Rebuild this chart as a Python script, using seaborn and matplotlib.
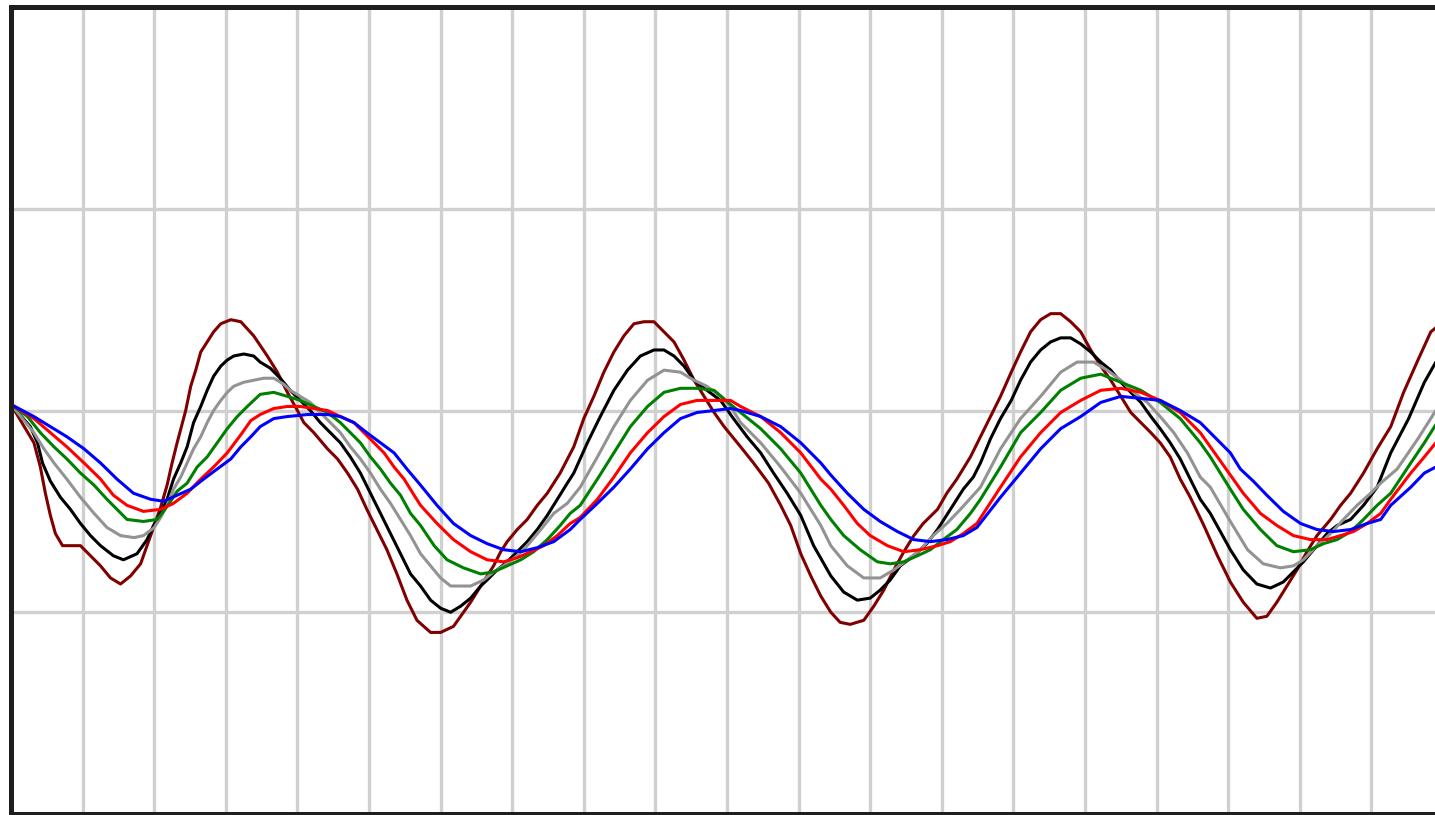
import pandas as pd
import seaborn as sns
import matplotlib.pyplot as plt

# curves (x in grid units, y in grid units)
maroon_x = [0, 0.32, 0.41, 0.48, 0.55, 0.62, 0.72, 0.97, 1.11, 1.25,
            1.39, 1.53, 1.67, 1.81, 1.90, 1.99, 2.09, 2.18, 2.25, 2.32,
            2.44, 2.51, 2.58, 2.65, 2.74, 2.83, 2.93, 3.07, 3.21, 3.39,
            3.58, 3.72, 3.86, 4.00, 4.09, 4.23, 4.42, 4.56, 4.70, 4.84,
            4.97, 5.11, 5.25, 5.39, 5.53, 5.67, 5.86, 6.00, 6.18, 6.32,
            6.42, 6.56, 6.65, 6.74, 6.84, 6.93, 7.07, 7.21, 7.35, 7.49,
            7.67, 7.86, 8.00, 8.14, 8.28, 8.42, 8.56, 8.70, 8.84, 8.98,
            9.12, 9.26, 9.40, 9.54, 9.68, 9.82, 9.96, 10.19, 10.37, 10.58,
            10.75, 10.89, 11.03, 11.17, 11.31, 11.45, 11.58, 11.72, 11.91, 12.05,
            12.19, 12.33, 12.47, 12.61, 12.74, 12.94, 13.07, 13.21, 13.40, 13.54,
            13.68, 13.82, 13.97, 14.10, 14.24, 14.38, 14.52, 14.66, 14.80, 14.94,
            15.08, 15.22, 15.36, 15.50, 15.64, 15.78, 15.92, 16.05, 16.19, 16.33,
            16.47, 16.66, 16.85, 17.03, 17.21, 17.40, 17.54, 17.68, 17.82, 17.96,
            18.10, 18.24, 18.43, 18.57, 18.71, 18.89, 19.08, 19.27, 19.45, 19.65,
            19.83, 19.90]
maroon_y = [0.03, -0.16, -0.28, -0.41, -0.52, -0.61, -0.67, -0.67, -0.72, -0.77,
            -0.83, -0.86, -0.82, -0.76, -0.67, -0.58, -0.48, -0.37, -0.26, -0.16,
            0.00, 0.12, 0.20, 0.29, 0.34, 0.39, 0.43, 0.45, 0.44, 0.37,
            0.27, 0.19, 0.09, 0.00, -0.06, -0.11, -0.19, -0.24, -0.31, -0.39,
            -0.49, -0.59, -0.69, -0.81, -0.94, -1.04, -1.10, -1.10, -1.07, -1.00,
            -0.95, -0.87, -0.82, -0.77, -0.70, -0.65, -0.59, -0.54, -0.47, -0.41,
            -0.31, -0.18, -0.04, 0.07, 0.19, 0.29, 0.37, 0.43, 0.44, 0.44,
            0.39, 0.34, 0.25, 0.15, 0.07, -0.01, -0.08, -0.18, -0.26, -0.36,
            -0.47, -0.57, -0.71, -0.82, -0.92, -1.00, -1.05, -1.06, -1.04, -0.97,
            -0.89, -0.79, -0.70, -0.62, -0.56, -0.49, -0.41, -0.34, -0.23, -0.13,
            -0.03, 0.07, 0.19, 0.29, 0.39, 0.45, 0.48, 0.48, 0.44, 0.39,
            0.30, 0.22, 0.15, 0.07, -0.01, -0.06, -0.11, -0.16, -0.23, -0.34,
            -0.43, -0.57, -0.72, -0.85, -0.95, -1.03, -1.02, -0.95, -0.87, -0.79,
            -0.70, -0.62, -0.54, -0.47, -0.41, -0.31, -0.19, -0.08, 0.09, 0.25,
            0.39, 0.41]

black_x = [0, 0.27, 0.37, 0.44, 0.55, 0.69, 0.83, 0.97, 1.11, 1.25,
           1.43, 1.57, 1.76, 1.90, 1.99, 2.09, 2.18, 2.27, 2.37, 2.46,
           2.55, 2.65, 2.74, 2.83, 2.93, 3.02, 3.11, 3.25, 3.39, 3.48,
           3.62, 3.76, 3.90, 4.04, 4.18, 4.32, 4.46, 4.60, 4.74, 4.88,
           5.02, 5.16, 5.30, 5.44, 5.58, 5.72, 5.86, 6.00, 6.14, 6.28,
           6.42, 6.56, 6.65, 6.79, 6.93, 7.07, 7.21, 7.35, 7.49, 7.63,
           7.77, 7.86, 8.05, 8.23, 8.42, 8.61, 8.79, 8.98, 9.12, 9.26,
           9.40, 9.54, 9.72, 9.91, 10.09, 10.28, 10.47, 10.65, 10.84, 11.03,
           11.21, 11.45, 11.63, 11.82, 12.00, 12.14, 12.28, 12.42, 12.61, 12.79,
           12.94, 13.12, 13.30, 13.44, 13.54, 13.68, 13.82, 13.97, 14.10, 14.24,
           14.38, 14.52, 14.66, 14.80, 14.94, 15.08, 15.22, 15.36, 15.50, 15.64,
           15.78, 15.92, 16.05, 16.19, 16.33, 16.47, 16.61, 16.75, 17.03, 17.21,
           17.40, 17.59, 17.77, 17.91, 18.05, 18.24, 18.38, 18.52, 18.71, 18.89,
           19.08, 19.27, 19.52, 19.74, 19.90]
black_y = [0.03, -0.08, -0.16, -0.26, -0.35, -0.43, -0.49, -0.56, -0.62, -0.67,
           -0.72, -0.74, -0.71, -0.64, -0.57, -0.51, -0.44, -0.34, -0.26, -0.18,
           -0.06, 0.02, 0.10, 0.17, 0.22, 0.25, 0.27, 0.28, 0.27, 0.24,
           0.21, 0.16, 0.10, 0.05, 0.00, -0.06, -0.11, -0.16, -0.23, -0.31,
           -0.41, -0.51, -0.61, -0.71, -0.81, -0.87, -0.94, -0.98, -1.00, -0.97,
           -0.93, -0.87, -0.84, -0.79, -0.75, -0.70, -0.65, -0.59, -0.52, -0.44,
           -0.36, -0.31, -0.16, -0.03, 0.10, 0.20, 0.27, 0.30, 0.30, 0.27,
           0.22, 0.15, 0.10, 0.05, -0.04, -0.13, -0.21, -0.31, -0.41, -0.52,
           -0.67, -0.82, -0.90, -0.94, -0.93, -0.89, -0.84, -0.77, -0.72, -0.66,
           -0.59, -0.49, -0.39, -0.33, -0.26, -0.14, -0.04, 0.05, 0.15, 0.24,
           0.30, 0.34, 0.36, 0.36, 0.33, 0.29, 0.24, 0.20, 0.14, 0.09,
           0.04, -0.03, -0.09, -0.16, -0.24, -0.34, -0.44, -0.51, -0.69, -0.79,
           -0.86, -0.88, -0.85, -0.80, -0.75, -0.67, -0.61, -0.57, -0.54, -0.47,
           -0.38, -0.21, -0.04, 0.14, 0.24]

gray_x = [0, 0.32, 0.46, 0.60, 0.78, 0.97, 1.16, 1.34, 1.53, 1.72,
          1.85, 2.00, 2.09, 2.18, 2.27, 2.37, 2.46, 2.55, 2.65, 2.74,
          2.83, 2.93, 3.02, 3.11, 3.25, 3.39, 3.53, 3.67, 3.81, 3.90,
          4.04, 4.18, 4.32, 4.46, 4.60, 4.74, 4.88, 5.02, 5.16, 5.30,
          5.44, 5.58, 5.72, 5.86, 6.00, 6.14, 6.28, 6.42, 6.60, 6.74,
          6.88, 7.07, 7.21, 7.40, 7.58, 7.77, 7.95, 8.19, 8.42, 8.65,
          8.89, 9.12, 9.35, 9.54, 9.72, 9.91, 10.05, 10.19, 10.47, 10.75,
          11.03, 11.31, 11.45, 11.68, 11.91, 12.14, 12.33, 12.52, 12.70, 12.88,
          13.07, 13.26, 13.54, 13.82, 14.10, 14.38, 14.66, 14.89, 15.12, 15.31,
          15.50, 15.68, 15.87, 16.05, 16.24, 16.43, 16.61, 16.75, 17.03, 17.27,
          17.49, 17.73, 17.91, 18.05, 18.24, 18.43, 18.61, 18.80, 18.99, 19.13,
          19.36, 19.65, 19.90]
gray_y = [0.03, -0.11, -0.19, -0.26, -0.34, -0.43, -0.51, -0.58, -0.62, -0.63,
          -0.62, -0.58, -0.53, -0.47, -0.39, -0.33, -0.26, -0.19, -0.13, -0.06,
          0.00, 0.05, 0.09, 0.12, 0.14, 0.15, 0.16, 0.16, 0.13, 0.10,
          0.07, 0.04, -0.01, -0.06, -0.11, -0.18, -0.24, -0.31, -0.39, -0.46,
          -0.54, -0.62, -0.71, -0.77, -0.83, -0.87, -0.87, -0.87, -0.84, -0.80,
          -0.77, -0.72, -0.67, -0.59, -0.51, -0.46, -0.38, -0.23, -0.08, 0.05,
          0.15, 0.20, 0.19, 0.15, 0.12, 0.07, 0.02, -0.06, -0.16, -0.28,
          -0.41, -0.57, -0.67, -0.77, -0.83, -0.83, -0.79, -0.74, -0.69, -0.62,
          -0.56, -0.49, -0.38, -0.19, -0.04, 0.07, 0.19, 0.24, 0.24, 0.20,
          0.15, 0.09, 0.04, -0.03, -0.11, -0.21, -0.33, -0.38, -0.55, -0.69,
          -0.76, -0.78, -0.77, -0.74, -0.67, -0.61, -0.54, -0.47, -0.41, -0.36,
          -0.29, -0.14, 0.00]

green_x = [0, 0.23, 0.41, 0.60, 0.78, 0.97, 1.16, 1.34, 1.48, 1.62,
           1.85, 2.04, 2.13, 2.23, 2.32, 2.46, 2.60, 2.74, 2.88, 3.02,
           3.16, 3.30, 3.48, 3.67, 3.86, 4.04, 4.23, 4.42, 4.60, 4.74,
           4.88, 5.02, 5.16, 5.30, 5.44, 5.58, 5.72, 5.91, 6.09, 6.32,
           6.56, 6.74, 6.93, 7.12, 7.30, 7.49, 7.67, 7.81, 7.95, 8.19,
           8.42, 8.65, 8.89, 9.12, 9.35, 9.58, 9.82, 10.05, 10.19, 10.47,
           10.75, 11.03, 11.31, 11.45, 11.63, 11.86, 12.10, 12.28, 12.47, 12.66,
           12.84, 13.02, 13.21, 13.40, 13.54, 13.82, 14.10, 14.38, 14.66, 14.94,
           15.22, 15.50, 15.78, 16.05, 16.33, 16.61, 16.75, 17.03, 17.21, 17.45,
           17.68, 17.91, 18.15, 18.33, 18.52, 18.71, 18.89, 19.08, 19.27, 19.55,
           19.74, 19.90]
green_y = [0.03, -0.03, -0.11, -0.18, -0.24, -0.31, -0.37, -0.44, -0.49, -0.54,
           -0.55, -0.54, -0.50, -0.45, -0.40, -0.36, -0.28, -0.23, -0.16, -0.09,
           -0.03, 0.02, 0.08, 0.09, 0.07, 0.05, 0.02, -0.01, -0.06, -0.11,
           -0.16, -0.23, -0.29, -0.36, -0.42, -0.51, -0.57, -0.67, -0.74, -0.78,
           -0.81, -0.80, -0.77, -0.74, -0.70, -0.64, -0.57, -0.51, -0.47, -0.34,
           -0.21, -0.08, 0.02, 0.09, 0.11, 0.11, 0.10, 0.03, -0.01, -0.09,
           -0.19, -0.31, -0.47, -0.54, -0.62, -0.69, -0.75, -0.76, -0.75, -0.72,
           -0.69, -0.64, -0.59, -0.51, -0.44, -0.28, -0.11, -0.01, 0.10, 0.16,
           0.18, 0.14, 0.10, 0.04, -0.04, -0.16, -0.23, -0.39, -0.49, -0.59,
           -0.67, -0.70, -0.69, -0.66, -0.64, -0.60, -0.54, -0.47, -0.41, -0.26,
           -0.16, -0.07]

red_x = [0, 0.32, 0.55, 0.78, 1.02, 1.25, 1.43, 1.62, 1.85, 2.09,
         2.27, 2.46, 2.65, 2.83, 3.02, 3.21, 3.35, 3.48, 3.67, 3.86,
         4.04, 4.23, 4.42, 4.60, 4.79, 4.93, 5.07, 5.21, 5.35, 5.49,
         5.63, 5.72, 5.95, 6.18, 6.42, 6.65, 6.88, 7.07, 7.26, 7.44,
         7.63, 7.81, 7.95, 8.19, 8.42, 8.65, 8.89, 9.12, 9.35, 9.58,
         9.82, 10.05, 10.19, 10.47, 10.75, 11.03, 11.31, 11.45, 11.63, 11.82,
         12.00, 12.24, 12.47, 12.70, 12.94, 13.12, 13.30, 13.49, 13.82, 14.10,
         14.38, 14.66, 14.94, 15.22, 15.50, 15.78, 16.05, 16.33, 16.61, 16.75,
         17.03, 17.21, 17.45, 17.68, 17.91, 18.15, 18.38, 18.57, 18.75, 18.94,
         19.13, 19.27, 19.55, 19.74, 19.90]
red_y = [0.03, -0.04, -0.11, -0.18, -0.26, -0.34, -0.42, -0.47, -0.50, -0.49,
         -0.46, -0.41, -0.34, -0.28, -0.21, -0.12, -0.05, -0.02, 0.01, 0.02,
         0.02, 0.01, 0.00, -0.03, -0.06, -0.11, -0.16, -0.21, -0.28, -0.34,
         -0.42, -0.47, -0.56, -0.64, -0.70, -0.74, -0.75, -0.73, -0.70, -0.67,
         -0.62, -0.56, -0.53, -0.44, -0.33, -0.21, -0.11, -0.03, 0.03, 0.05,
         0.05, 0.05, 0.02, -0.03, -0.11, -0.21, -0.34, -0.39, -0.47, -0.56,
         -0.62, -0.67, -0.70, -0.69, -0.67, -0.65, -0.61, -0.56, -0.38, -0.23,
         -0.11, -0.01, 0.05, 0.10, 0.11, 0.09, 0.05, -0.01, -0.11, -0.18,
         -0.32, -0.41, -0.51, -0.57, -0.62, -0.64, -0.64, -0.62, -0.60, -0.56,
         -0.51, -0.44, -0.31, -0.23, -0.16]

blue_x = [0, 0.32, 0.55, 0.78, 1.02, 1.25, 1.48, 1.71, 1.95, 2.13,
          2.32, 2.51, 2.69, 2.88, 3.07, 3.21, 3.35, 3.48, 3.67, 3.86,
          4.14, 4.42, 4.60, 4.79, 4.97, 5.16, 5.35, 5.53, 5.72, 5.95,
          6.18, 6.42, 6.65, 6.88, 7.12, 7.35, 7.58, 7.81, 7.95, 8.19,
          8.42, 8.65, 8.89, 9.12, 9.35, 9.58, 9.82, 10.05, 10.19, 10.47,
          10.75, 11.03, 11.31, 11.45, 11.68, 11.91, 12.14, 12.38, 12.61, 12.84,
          13.07, 13.30, 13.49, 13.82, 14.10, 14.38, 14.66, 14.94, 15.22, 15.50,
          15.78, 16.05, 16.33, 16.61, 16.75, 17.03, 17.17, 17.35, 17.54, 17.77,
          18.01, 18.24, 18.47, 18.71, 18.94, 19.13, 19.27, 19.55, 19.74, 19.90]
blue_y = [0.03, -0.03, -0.08, -0.13, -0.19, -0.26, -0.34, -0.41, -0.44, -0.45,
          -0.42, -0.39, -0.34, -0.29, -0.24, -0.18, -0.13, -0.08, -0.04, -0.03,
          -0.02, -0.02, -0.03, -0.06, -0.11, -0.16, -0.21, -0.29, -0.37, -0.47,
          -0.56, -0.62, -0.66, -0.69, -0.70, -0.68, -0.65, -0.59, -0.54, -0.46,
          -0.38, -0.29, -0.19, -0.11, -0.04, -0.01, 0.00, 0.01, 0.00, -0.03,
          -0.08, -0.16, -0.26, -0.32, -0.41, -0.49, -0.55, -0.60, -0.64, -0.65,
          -0.64, -0.62, -0.58, -0.43, -0.31, -0.19, -0.09, -0.03, 0.04, 0.07,
          0.06, 0.05, 0.00, -0.06, -0.11, -0.21, -0.29, -0.35, -0.42, -0.50,
          -0.56, -0.59, -0.60, -0.59, -0.56, -0.54, -0.47, -0.38, -0.31, -0.28]

names = ['maroon', 'black', 'gray', 'green', 'red', 'blue']
colors = ['#800000', '#000000', '#939393', '#008000', '#ff0000', '#0000ff']

parts = []
for name, xs, ys in zip(names,
                        [maroon_x, black_x, gray_x, green_x, red_x, blue_x],
                        [maroon_y, black_y, gray_y, green_y, red_y, blue_y]):
    parts.append(pd.DataFrame({'x': xs, 'y': ys, 'curve': name}))
df = pd.concat(parts, ignore_index=True)

sns.set_style('white')
fig = plt.figure(figsize=(14.35, 8.15), dpi=100)
ax = fig.add_axes([11 / 1435, 1 / 815, 1432 / 1435, 807 / 815])

sns.lineplot(data=df, x='x', y='y', hue='curve', hue_order=names,
             palette=dict(zip(names, colors)), estimator=None, sort=False,
             linewidth=2.2, legend=False, ax=ax)

ax.set_xlim(0, 20)
ax.set_ylim(-2, 2)
ax.set_xticks(range(0, 21))
ax.set_yticks([-2, -1, 0, 1, 2])
ax.grid(True, color='#d0d0d0', linewidth=2.4)
ax.set_axisbelow(True)
ax.tick_params(length=0, labelleft=False, labelbottom=False)
ax.set_xlabel('')
ax.set_ylabel('')
for side in ['left', 'top', 'bottom']:
    ax.spines[side].set_color('#1e1e1e')
    ax.spines[side].set_linewidth(3.6)
ax.spines['right'].set_visible(False)

fig.savefig('out.png', dpi=100)
